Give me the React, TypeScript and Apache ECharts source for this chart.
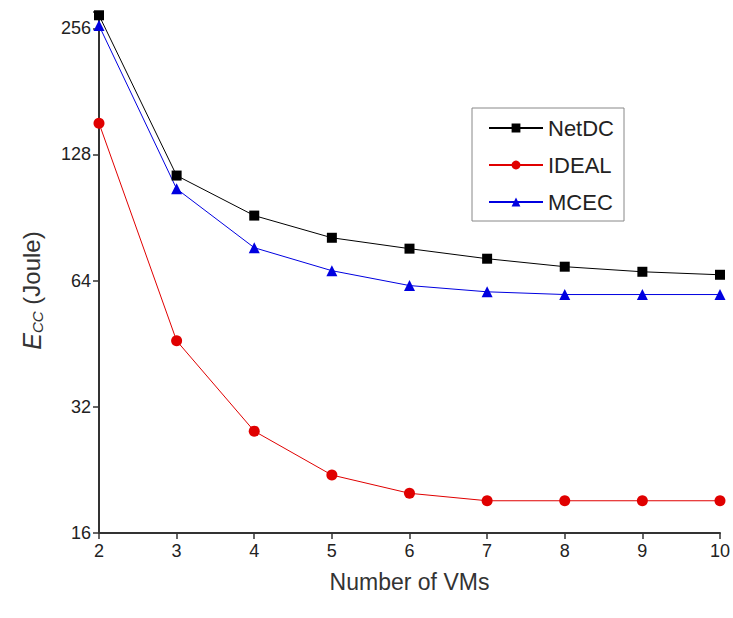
import React, { useEffect, useRef } from "react";
import * as echarts from "echarts";

const vms = [2, 3, 4, 5, 6, 7, 8, 9, 10];
const netdc = [275, 114, 91.5, 81, 76.3, 72.2, 69.1, 67.2, 66.1];
const ideal = [152, 46, 28, 22, 19.9, 19.1, 19.1, 19.1, 19.1];
const mcec = [260, 106, 76.7, 67.6, 62.3, 60.2, 59.3, 59.3, 59.3];
const yTicks = [16, 32, 64, 128, 256];

export default function App() {
  const ref = useRef<HTMLDivElement>(null);
  useEffect(() => {
    const chart = echarts.init(ref.current!, null, { renderer: "svg" });
    const font = "Liberation Sans";
    const mk = (name: string, data: number[], color: string, symbol: string, size: number) => ({
      name,
      type: "line",
      data: vms.map((x, i) => [x, data[i]]),
      symbol,
      symbolSize: size,
      lineStyle: { color, width: 1 },
      itemStyle: { color },
      clip: true,
    });
    chart.setOption({
      animation: false,
      backgroundColor: "#fff",
      grid: { left: 99, right: 13, top: 12, bottom: 85 },
      legend: {
        left: 472,
        top: 108,
        orient: "vertical",
        borderColor: "#888",
        borderWidth: 1,
        borderRadius: 0,
        padding: [9, 10, 8, 16],
        itemWidth: 54,
        itemHeight: 11,
        itemGap: 15,
        textStyle: { fontFamily: font, fontSize: 22, color: "#222" },
        data: ["NetDC", "IDEAL", "MCEC"],
      },
      xAxis: {
        type: "value",
        min: 2,
        max: 10,
        interval: 1,
        name: "Number of VMs",
        nameLocation: "middle",
        nameGap: 37,
        nameTextStyle: { fontFamily: font, fontSize: 23, color: "#333" },
        axisLine: { lineStyle: { color: "#333", width: 2 } },
        axisTick: { show: true, length: 6, lineStyle: { color: "#333", width: 1.5 } },
        axisLabel: { fontFamily: font, fontSize: 18, color: "#222", margin: 9 },
        splitLine: { show: false },
      },
      yAxis: {
        type: "log",
        logBase: 2,
        min: 16,
        max: 280,
        name: "{e|E}{s|CC} (Joule)",
        nameLocation: "middle",
        nameGap: 54,
        nameTextStyle: {
          fontFamily: font,
          fontSize: 24,
          color: "#333",
          padding: [0, 36, 0, 0],
          rich: {
            e: { fontFamily: font, fontSize: 25, fontStyle: "italic", color: "#333" },
            s: { fontFamily: font, fontSize: 15, fontStyle: "italic", color: "#333", verticalAlign: "bottom", padding: [12, 0, 0, 0] },
          },
        },
        axisLine: { show: true, lineStyle: { color: "#333", width: 2 } },
        axisTick: { show: true, length: 6, lineStyle: { color: "#333", width: 1.5 } },
        axisLabel: {
          fontFamily: font,
          fontSize: 18,
          color: "#222",
          margin: 8,
          formatter: (v: number) => {
            const r = Math.round(v);
            return yTicks.includes(r) ? String(r) : "";
          },
        },
        splitLine: { show: false },
        minorTick: { show: false },
      },
      series: [
        mk("NetDC", netdc, "#000", "rect", 10),
        mk("IDEAL", ideal, "#e00000", "circle", 11),
        mk("MCEC", mcec, "#0000e0", "triangle", 11),
      ],
    });
    return () => chart.dispose();
  }, []);
  return <div ref={ref} style={{ width: 733, height: 618, position: "absolute", left: 0, top: 0 }} />;
}
